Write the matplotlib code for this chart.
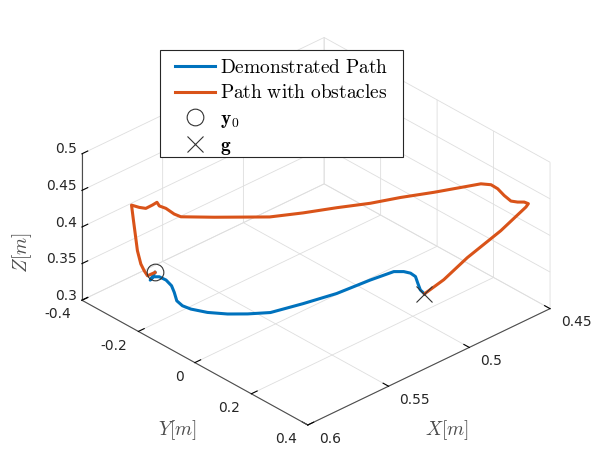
import numpy as np
import matplotlib.pyplot as plt
from matplotlib.lines import Line2D
from matplotlib.patches import Rectangle

plt.rcParams['mathtext.fontset'] = 'cm'
plt.rcParams['font.family'] = ['DejaVu Sans']

# demonstrated path [m]
demo_x = [0.5723, 0.5785, 0.5754, 0.5735, 0.5732, 0.5748, 0.5779, 0.5821, 0.5832,
          0.5824, 0.5789, 0.5732, 0.5665, 0.5581, 0.5420, 0.5248, 0.5056, 0.4927,
          0.4894, 0.4881, 0.4885, 0.4917, 0.4949, 0.4959]
demo_y = [-0.2996, -0.2812, -0.2871, -0.2778, -0.2554, -0.2267, -0.1993, -0.1664, -0.1401,
          -0.1150, -0.0760, -0.0376, -0.0048, 0.0281, 0.0513, 0.0719, 0.0810, 0.0909,
          0.1073, 0.1238, 0.1436, 0.1701, 0.1974, 0.2177]
demo_z = [0.33] * 24

# path with obstacles [m]
obst_x = [0.5723, 0.5768, 0.5779, 0.5790, 0.5802, 0.5809, 0.5815, 0.5836, 0.5825,
          0.5810, 0.5768, 0.5738, 0.5752, 0.5746, 0.5754, 0.5749, 0.5645, 0.5467,
          0.5336, 0.5198, 0.5064, 0.4933, 0.4795, 0.4652, 0.4595, 0.4567, 0.4569,
          0.4588, 0.4599, 0.4583, 0.4561, 0.4557, 0.4585, 0.4686, 0.4803, 0.4897,
          0.4959]
obst_y = [-0.2996, -0.3004, -0.3058, -0.3114, -0.3167, -0.3205, -0.3233, -0.3181, -0.2971,
          -0.2823, -0.2824, -0.2841, -0.2677, -0.2477, -0.2139, -0.1929, -0.1341, -0.0399,
          0.0035, 0.0436, 0.0860, 0.1178, 0.1578, 0.1945, 0.2095, 0.2293, 0.2541,
          0.2879, 0.3181, 0.3325, 0.3434, 0.3558, 0.3633, 0.3318, 0.2802, 0.2507,
          0.2177]
obst_z = [0.33, 0.33, 0.3369, 0.3461, 0.3645, 0.3876, 0.4059, 0.43, 0.4302,
          0.4304, 0.4306, 0.4307, 0.4307, 0.431, 0.4313, 0.4315, 0.4324, 0.434,
          0.4349, 0.4359, 0.4368, 0.4376, 0.4386, 0.4395, 0.44, 0.44, 0.44,
          0.44, 0.44, 0.44, 0.44, 0.44, 0.44, 0.4116, 0.3762, 0.3498,
          0.33]

y0 = [0.5723, -0.2996, 0.33]
g = [0.4959, 0.2177, 0.33]

x_ticks = [0.45, 0.5, 0.55, 0.6]
y_ticks = [-0.4, -0.2, 0, 0.2, 0.4]
z_ticks = [0.3, 0.35, 0.4, 0.45, 0.5]
x_labels = ['0.45', '0.5', '0.55', '0.6']
y_labels = ['-0.4', '-0.2', '0', '0.2', '0.4']
z_labels = ['0.3', '0.35', '0.4', '0.45', '0.5']

blue = '#0072BD'
orange = '#D95319'

fig = plt.figure(figsize=(5.92, 4.49), dpi=100)
ax = fig.add_axes([0.0235, -0.0285, 1.0, 1.0], projection='3d', proj_type='ortho')
ax.set_box_aspect((1, 1, 0.5157), zoom=1.078)
ax.view_init(elev=31, azim=47)

ax.plot(demo_x, demo_y, demo_z, color=blue, lw=2.2)
ax.plot(obst_x, obst_y, obst_z, color=orange, lw=2.2)
ax.plot([y0[0]], [y0[1]], [y0[2]], 'o', mfc='none', mec='0.2', ms=12, mew=0.8)
ax.plot([g[0]], [g[1]], [g[2]], 'x', color='0.2', ms=11, mew=0.8)

ax.set_xlim(0.45, 0.6)
ax.set_ylim(-0.4, 0.4)
ax.set_zlim(0.3, 0.5)
ax.set_xticks(x_ticks)
ax.set_yticks(y_ticks)
ax.set_zticks(z_ticks)
# tick labels placed by hand below, MATLAB style
ax.set_xticklabels([])
ax.set_yticklabels([])
ax.set_zticklabels([])

for axis in (ax.xaxis, ax.yaxis, ax.zaxis):
    axis.set_pane_color((1, 1, 1, 0))
    axis.pane.set_edgecolor('0.85')
    axis._axinfo['grid'].update(color='0.87', linewidth=0.6)
    axis._axinfo['tick']['inward_factor'] = 0.0
    axis._axinfo['tick']['outward_factor'] = 0.3
    axis.line.set_color('0.3')
    axis.line.set_linewidth(0.8)
    for lab in axis.get_ticklabels():
        lab.set_visible(False)

tk = dict(fontsize=10, color='0.15', va='center')
for t, s in zip(x_ticks, x_labels):
    ax.text(t, 0.439, 0.2898, s, ha='left', **tk)
for t, s in zip(y_ticks, y_labels):
    ax.text(0.6069, t, 0.288, s, ha='right', **tk)
for t, s in zip(z_ticks, z_labels):
    ax.text(0.6, -0.4177, t + 0.0024, s, ha='right', **tk)

# axis labels drawn upright, as in the original
fig.text(0.299, 0.042, r'$Y[m]$', fontsize=14, color='0.3', ha='center', va='center')
fig.text(0.755, 0.042, r'$X[m]$', fontsize=14, color='0.3', ha='center', va='center')
fig.text(0.037, 0.437, r'$Z[m]$', fontsize=14, color='0.3', ha='center', va='center',
         rotation=90)

handles = [Line2D([], [], color=blue, lw=2.2),
           Line2D([], [], color=orange, lw=2.2),
           Line2D([], [], ls='none', marker='o', mfc='none', mec='0.2', ms=12, mew=0.8),
           Line2D([], [], ls='none', marker='x', color='0.2', ms=11, mew=0.8)]
labels = [r'$\mathrm{Demonstrated\ Path}$', r'$\mathrm{Path\ with\ obstacles}$',
          r'$\mathbf{y}_\mathbf{0}$', r'$\mathbf{g}$']
fig.legend(handles, labels, loc='upper left', bbox_to_anchor=(175 / 592, 1 - 58 / 449),
           fontsize=14, frameon=False, borderaxespad=0, borderpad=0,
           handlelength=2.06, labelspacing=0.33, handletextpad=0.26)
fig.add_artist(Rectangle((160 / 592, 1 - 157 / 449), 243 / 592, 107 / 449,
                         transform=fig.transFigure, fill=True, facecolor='white',
                         edgecolor='0.15', lw=0.8, zorder=2.5))

fig.savefig('out.png', dpi=100)
